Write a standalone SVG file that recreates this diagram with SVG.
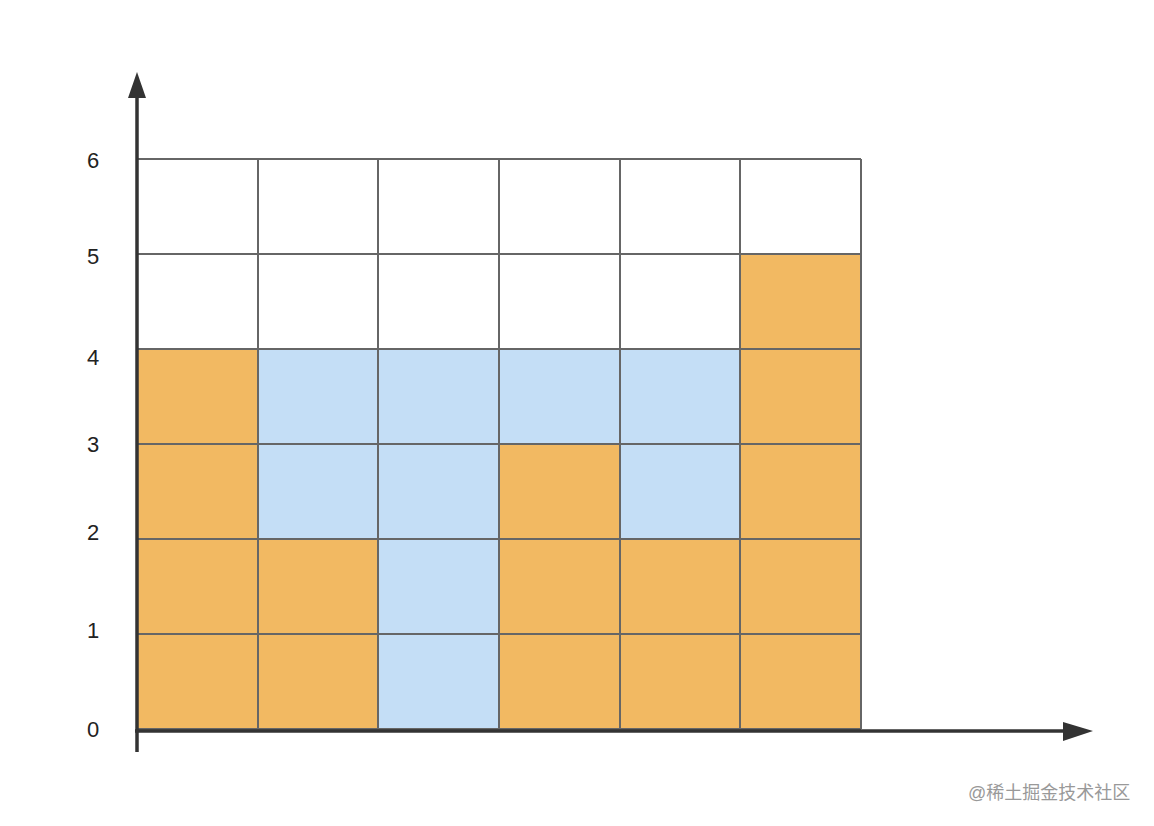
<svg xmlns="http://www.w3.org/2000/svg" width="1154" height="826" viewBox="0 0 1154 826">
<style>
.o{fill:#F2B962}
.b{fill:#C4DEF6}
.w{fill:#FFFFFF}
.grid{stroke:#666;stroke-width:2;fill:none}
.lbl{font-family:"Liberation Sans",Arial,sans-serif;font-size:22px;fill:#222;text-anchor:middle;dominant-baseline:central}
.axis{stroke:#333;stroke-width:3.5;fill:none}
.wm{font-family:"Liberation Sans","Noto Sans CJK SC",sans-serif;font-size:18px;fill:#999}
</style>
<rect width="1154" height="826" fill="#fff"/>
<g id="cells">
<rect class="o" x="138" y="634" width="120" height="95"/>
<rect class="o" x="258" y="634" width="120" height="95"/>
<rect class="b" x="378" y="634" width="121" height="95"/>
<rect class="o" x="499" y="634" width="121" height="95"/>
<rect class="o" x="620" y="634" width="120" height="95"/>
<rect class="o" x="740" y="634" width="121" height="95"/>
<rect class="o" x="138" y="539" width="120" height="95"/>
<rect class="o" x="258" y="539" width="120" height="95"/>
<rect class="b" x="378" y="539" width="121" height="95"/>
<rect class="o" x="499" y="539" width="121" height="95"/>
<rect class="o" x="620" y="539" width="120" height="95"/>
<rect class="o" x="740" y="539" width="121" height="95"/>
<rect class="o" x="138" y="444" width="120" height="95"/>
<rect class="b" x="258" y="444" width="120" height="95"/>
<rect class="b" x="378" y="444" width="121" height="95"/>
<rect class="o" x="499" y="444" width="121" height="95"/>
<rect class="b" x="620" y="444" width="120" height="95"/>
<rect class="o" x="740" y="444" width="121" height="95"/>
<rect class="o" x="138" y="349" width="120" height="95"/>
<rect class="b" x="258" y="349" width="120" height="95"/>
<rect class="b" x="378" y="349" width="121" height="95"/>
<rect class="b" x="499" y="349" width="121" height="95"/>
<rect class="b" x="620" y="349" width="120" height="95"/>
<rect class="o" x="740" y="349" width="121" height="95"/>
<rect class="o" x="740" y="254" width="121" height="95"/>
</g>
<g id="grid" class="grid">
<path d="M138 159H861M138 254H861M138 349H861M138 444H861M138 539H861M138 634H861M138 729H861"/>
<path d="M258 159V729M378 159V729M499 159V729M620 159V729M740 159V729M861 159V729"/>
</g>
<g id="axes">
<path class="axis" d="M137 752V96"/>
<polygon points="137,72 128,98 146,98" fill="#333"/>
<path class="axis" d="M135 731H1066"/>
<polygon points="1093,731 1063,722 1063,741" fill="#333"/>
</g>
<g id="labels">
<text class="lbl" x="93" y="160">6</text>
<text class="lbl" x="93" y="256">5</text>
<text class="lbl" x="93" y="357">4</text>
<text class="lbl" x="93" y="444">3</text>
<text class="lbl" x="93" y="532">2</text>
<text class="lbl" x="93" y="630">1</text>
<text class="lbl" x="93" y="729">0</text>
</g>
<text class="wm" x="968" y="799">@稀土掘金技术社区</text>
</svg>
